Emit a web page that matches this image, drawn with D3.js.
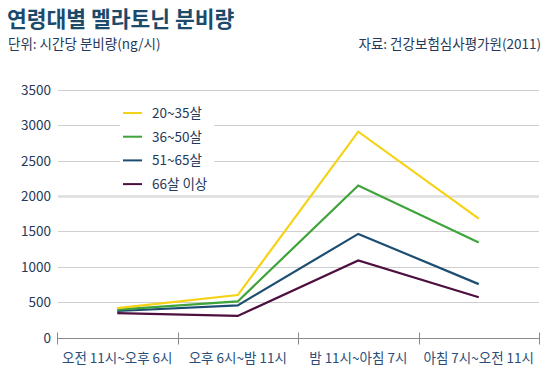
<!DOCTYPE html>
<html>
<head>
<meta charset="utf-8">
<script src="https://cdn.jsdelivr.net/npm/d3@7"></script>
<style>
  body { margin: 0; background: #fff; }
  svg { font-family: "Noto Sans CJK KR", "Noto Sans", sans-serif; }
</style>
</head>
<body>
<div id="chart"></div>
<script>
// 연령대별 멜라토닌 분비량 (ng/시)
const periods = ['오전 11시~오후 6시', '오후 6시~밤 11시', '밤 11시~아침 7시', '아침 7시~오전 11시']
const seriesNames = ['20~35살', '36~50살', '51~65살', '66살 이상']
const age20to35 = [415, 600, 2910, 1680]
const age36to50 = [395, 510, 2150, 1345]
const age51to65 = [375, 455, 1465, 755]
const age66plus = [345, 305, 1090, 570]
const yTicks = [0, 500, 1000, 1500, 2000, 2500, 3000, 3500]
const colors = ['#f5d215', '#3ea43a', '#1d4e72', '#4d0f3f']

const width = 549
const height = 377
const margin = { top: 90, right: 10, bottom: 40, left: 57 }

const series = [age20to35, age36to50, age51to65, age66plus]

const svg = d3.select('#chart')
  .append('svg')
  .attr('width', width)
  .attr('height', height)

// titles
svg.append('text')
  .attr('x', 7).attr('y', 27)
  .attr('font-size', 21.5).attr('font-weight', 'bold')
  .attr('fill', '#1b4a6b')
  .text('연령대별 멜라토닌 분비량')
svg.append('text')
  .attr('x', 8).attr('y', 49)
  .attr('font-size', 13.5)
  .attr('fill', '#24395a')
  .text('단위: 시간당 분비량(ng/시)')
svg.append('text')
  .attr('x', 541).attr('y', 49)
  .attr('text-anchor', 'end')
  .attr('font-size', 13.5)
  .attr('fill', '#24395a')
  .text('자료: 건강보험심사평가원(2011)')

const xScale = d3.scaleBand()
  .domain(periods)
  .range([margin.left, 539])

const yScale = d3.scaleLinear()
  .domain([0, 3500])
  .range([337.5, 90])

// grid lines
svg.append('g')
  .selectAll('line')
  .data(yTicks.slice(1))
  .enter()
  .append('line')
  .attr('x1', margin.left + 1)
  .attr('x2', 539)
  .attr('y1', (d) => Math.round(yScale(d)) + 0.5)
  .attr('y2', (d) => Math.round(yScale(d)) + 0.5)
  .attr('stroke', (d) => d === 2000 ? '#dedede' : '#cfcfcf')
  .attr('stroke-width', (d) => d === 2000 ? 2.5 : 1)

// y labels
svg.append('g')
  .selectAll('text')
  .data(yTicks)
  .enter()
  .append('text')
  .attr('x', 51)
  .attr('y', (d) => yScale(d) + 5)
  .attr('text-anchor', 'end')
  .attr('font-size', 13.5)
  .attr('fill', '#24395a')
  .text((d) => d)

// x axis
const xAxis = svg.append('g')
  .attr('transform', `translate(0, ${Math.round(yScale(0)) + 0.5})`)
xAxis.append('line')
  .attr('x1', margin.left).attr('x2', 539)
  .attr('stroke', '#8a8a8a')
const tickXs = periods.map((p) => xScale(p)).concat([539])
xAxis.selectAll('.tick')
  .data(tickXs)
  .enter()
  .append('line')
  .attr('class', 'tick')
  .attr('x1', (d) => Math.round(d) + 0.5)
  .attr('x2', (d) => Math.round(d) + 0.5)
  .attr('y1', -6).attr('y2', 6)
  .attr('stroke', '#8a8a8a')
xAxis.selectAll('.label')
  .data(periods)
  .enter()
  .append('text')
  .attr('class', 'label')
  .attr('x', (d) => xScale(d) + xScale.bandwidth() / 2)
  .attr('y', 24)
  .attr('text-anchor', 'middle')
  .attr('font-size', 13.5)
  .attr('fill', '#2a4d78')
  .text((d) => d)

// legend (white box over the grid)
svg.append('rect')
  .attr('x', 120).attr('y', 100)
  .attr('width', 94).attr('height', 94)
  .attr('fill', '#fff')
seriesNames.forEach((name, i) => {
  const y = 113 + i * 23.7
  svg.append('line')
    .attr('x1', 123).attr('x2', 142)
    .attr('y1', y).attr('y2', y)
    .attr('stroke', colors[i]).attr('stroke-width', 2)
  svg.append('text')
    .attr('x', 152).attr('y', y + 5)
    .attr('font-size', 13.5)
    .attr('fill', '#24395a')
    .text(name)
})

// lines
const line = d3.line()
  .x((d, i) => xScale(periods[i]) + xScale.bandwidth() / 2)
  .y((d) => yScale(d))

series.slice().reverse().forEach((s, j) => {
  const i = series.length - 1 - j
  svg.append('path')
    .datum(s)
    .attr('d', line)
    .attr('fill', 'none')
    .attr('stroke', colors[i])
    .attr('stroke-width', 2.2)
})
</script>
</body>
</html>
